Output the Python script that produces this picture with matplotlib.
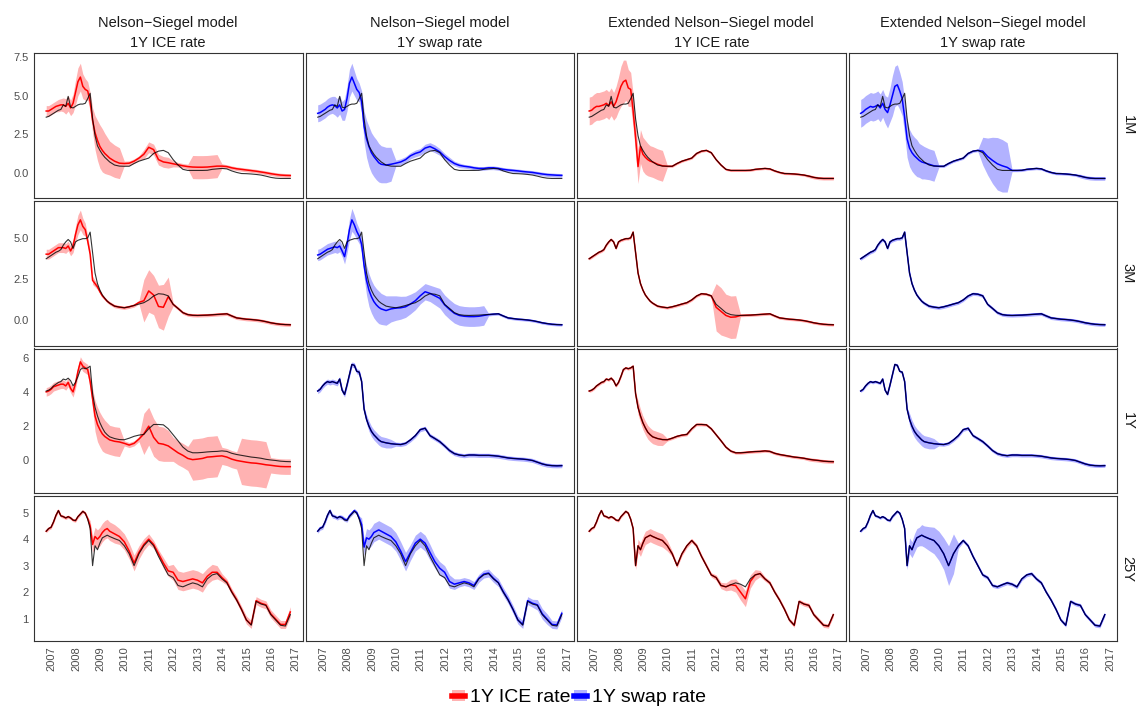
import matplotlib
matplotlib.use('Agg')
import numpy as np
import matplotlib.pyplot as plt
from matplotlib.patches import Patch
from matplotlib.lines import Line2D
from matplotlib.transforms import ScaledTranslation

plt.rcParams['font.family'] = ['Liberation Sans', 'DejaVu Sans']

# dates (decimal years): every 0.1 year up to mid 2009, then every 0.2 year
dates = [2007.0, 2007.1, 2007.2, 2007.3, 2007.4, 2007.5, 2007.6, 2007.7, 2007.8, 2007.9,
         2008.0, 2008.1, 2008.2, 2008.3, 2008.4, 2008.5, 2008.6, 2008.7, 2008.8, 2008.9,
         2009.0, 2009.1, 2009.2, 2009.3, 2009.4, 2009.5, 2009.6,
         2009.8, 2010.0, 2010.2, 2010.4, 2010.6, 2010.8, 2011.0, 2011.2, 2011.4, 2011.6,
         2011.8, 2012.0, 2012.2, 2012.4, 2012.6, 2012.8, 2013.0, 2013.2, 2013.4, 2013.6,
         2013.8, 2014.0, 2014.2, 2014.4, 2014.6, 2014.8, 2015.0, 2015.2, 2015.4, 2015.6,
         2015.8, 2016.0, 2016.2, 2016.4, 2016.6, 2016.8, 2017.0]

row_labels = ['1M', '3M', '1Y', '25Y']
col_titles = [('Nelson−Siegel model', '1Y ICE rate'),
              ('Nelson−Siegel model', '1Y swap rate'),
              ('Extended Nelson−Siegel model', '1Y ICE rate'),
              ('Extended Nelson−Siegel model', '1Y swap rate')]
year_ticks = list(range(2007, 2018))

# ---- 1M ----
obs_1m = [3.60, 3.65, 3.75, 3.85, 3.95, 4.05, 4.10, 4.40, 4.30, 4.95, 4.25, 4.20, 4.30, 4.40,
          4.45, 4.45, 4.50, 4.80, 5.15, 3.50, 2.40, 1.75, 1.45, 1.20, 1.00, 0.85, 0.70,
          0.50, 0.43, 0.42, 0.42, 0.60, 0.75, 0.85, 0.95, 1.25, 1.40, 1.45, 1.30, 0.85, 0.50,
          0.22, 0.15, 0.15, 0.15, 0.15, 0.16, 0.22, 0.25, 0.28, 0.25, 0.12, 0.02, -0.05,
          -0.06, -0.08, -0.11, -0.15, -0.22, -0.30, -0.35, -0.37, -0.37, -0.37]
fit_1m_ns_ice = [4.00, 4.00, 4.10, 4.20, 4.30, 4.35, 4.40, 4.40, 4.30, 4.50, 4.20, 4.50, 5.20,
                 5.90, 6.20, 5.60, 5.40, 5.30, 4.60, 3.40, 2.60, 2.10, 1.70, 1.45, 1.25, 1.10, 0.95,
                 0.75, 0.62, 0.60, 0.62, 0.75, 0.95, 1.20, 1.65, 1.50, 0.85, 0.70, 0.65, 0.58,
                 0.52, 0.45, 0.40, 0.37, 0.36, 0.36, 0.37, 0.40, 0.43, 0.43, 0.40, 0.32, 0.26,
                 0.22, 0.18, 0.14, 0.10, 0.05, 0.00, -0.06, -0.11, -0.15, -0.17, -0.18]
band_1m_ns_ice = ([0.35] * 5 + [0.40, 0.40, 0.45, 0.50, 0.50, 0.50, 0.60, 0.80, 0.90, 0.90, 0.80,
                   0.70, 0.60, 0.60, 0.80, 1.10, 1.30, 1.40, 1.40, 1.30, 1.20, 1.10]
                  + [1.05, 1.00] + [0.15] * 4 + [0.30] + [0.35] * 5 + [0.20] + [0.15] * 3
                  + [0.75] * 6 + [0.15] + [0.12] * 14)
fit_1m_ns_swap = [3.85, 3.90, 4.00, 4.10, 4.25, 4.35, 4.40, 4.35, 4.20, 4.40, 4.00, 4.10, 4.80,
                  5.80, 6.20, 5.80, 5.40, 5.20, 4.60, 3.00, 2.20, 1.70, 1.30, 1.05, 0.85, 0.65, 0.55,
                  0.50, 0.55, 0.62, 0.70, 0.85, 1.10, 1.25, 1.35, 1.60, 1.70, 1.55, 1.35, 1.05,
                  0.80, 0.60, 0.48, 0.42, 0.38, 0.32, 0.28, 0.28, 0.32, 0.32, 0.28, 0.22, 0.18,
                  0.15, 0.12, 0.08, 0.05, 0.02, -0.03, -0.08, -0.12, -0.14, -0.16, -0.17]
band_1m_ns_swap = ([0.55] * 7 + [0.60] * 4 + [0.70, 0.80, 0.90, 0.90, 0.80, 0.70, 0.60, 0.70,
                    1.00, 1.20, 1.30, 1.30, 1.30, 1.30, 1.25, 1.20]
                   + [1.15, 1.10] + [0.20] * 4 + [0.22, 0.22, 0.25, 0.25, 0.25, 0.22, 0.20,
                                                   0.20, 0.15, 0.15] + [0.12] * 21)
fit_1m_ens_ice = [4.00, 4.05, 4.20, 4.30, 4.30, 4.35, 4.40, 4.50, 4.35, 4.60, 4.30, 4.60, 5.10,
                  5.60, 5.90, 6.00, 5.50, 5.40, 4.00, 2.30, 0.40, 1.70, 1.20, 1.00, 0.85, 0.75, 0.70,
                  0.55, 0.45, 0.42, 0.42, 0.60, 0.75, 0.85, 0.95, 1.25, 1.40, 1.45, 1.30, 0.85,
                  0.50, 0.22, 0.15, 0.15, 0.15, 0.15, 0.16, 0.22, 0.25, 0.28, 0.25, 0.12, 0.02,
                  -0.05, -0.06, -0.08, -0.11, -0.15, -0.22, -0.30, -0.35, -0.37, -0.37, -0.37]
band_1m_ens_ice = ([0.90] * 11 + [1.00, 1.10, 1.30, 1.40, 1.30, 1.20, 1.10, 1.10, 1.10, 1.10,
                                  1.10, 1.10, 1.10, 1.05, 1.00, 1.00]
                   + [1.00, 1.00] + [0.07] * 29 + [0.10] * 6)
fit_1m_ens_swap = [3.85, 3.95, 4.10, 4.20, 4.30, 4.25, 4.30, 4.40, 4.20, 4.50, 4.10, 3.90, 4.40,
                   5.00, 5.60, 5.70, 5.30, 4.80, 3.60, 2.20, 1.60, 1.30, 1.10, 0.95, 0.80, 0.70,
                   0.65, 0.55, 0.45, 0.42, 0.42, 0.60, 0.75, 0.85, 0.95, 1.25, 1.40, 1.45, 1.40,
                   1.05, 0.80, 0.58, 0.45, 0.35, 0.15, 0.15, 0.16, 0.22, 0.25, 0.28, 0.25, 0.12,
                   0.02, -0.05, -0.06, -0.08, -0.11, -0.15, -0.22, -0.30, -0.35, -0.37, -0.37, -0.37]
band_1m_ens_swap = ([0.90] * 11 + [1.00, 1.10, 1.30, 1.30, 1.30, 1.20, 1.10, 1.10, 1.20, 1.20,
                                   1.20, 1.20, 1.20, 1.10, 1.10, 1.05]
                    + [1.00, 1.00] + [0.08] * 9 + [0.90, 1.20, 1.50, 1.70, 1.70, 1.60]
                    + [0.08] * 14 + [0.12] * 6)

# ---- 3M ----
obs_3m = [3.72, 3.82, 3.92, 4.02, 4.12, 4.18, 4.28, 4.55, 4.75, 4.90, 4.75, 4.35, 4.75, 4.85,
          4.90, 4.95, 4.95, 5.00, 5.35, 4.10, 2.85, 2.20, 1.80, 1.50, 1.30, 1.12, 1.00,
          0.82, 0.76, 0.72, 0.78, 0.86, 0.95, 1.03, 1.20, 1.44, 1.58, 1.55, 1.45, 0.93, 0.68,
          0.42, 0.30, 0.26, 0.25, 0.26, 0.27, 0.29, 0.31, 0.33, 0.35, 0.22, 0.10, 0.06, 0.02,
          0.00, -0.03, -0.07, -0.13, -0.20, -0.25, -0.29, -0.31, -0.32]
fit_3m_ns_ice = [4.00, 4.00, 4.10, 4.20, 4.30, 4.40, 4.40, 4.40, 4.35, 4.50, 4.20, 4.50, 5.20,
                 5.80, 6.10, 5.70, 5.50, 4.80, 4.00, 2.40, 2.20, 2.00, 1.70, 1.45, 1.28, 1.12, 1.00,
                 0.82, 0.76, 0.72, 0.78, 0.86, 1.05, 1.15, 1.75, 1.50, 0.80, 0.75, 1.40, 0.93,
                 0.68, 0.42, 0.30, 0.26, 0.25, 0.26, 0.27, 0.29, 0.31, 0.33, 0.35, 0.22, 0.10,
                 0.06, 0.02, 0.00, -0.03, -0.07, -0.13, -0.20, -0.25, -0.29, -0.31, -0.32]
band_3m_ns_ice = ([0.30] * 11 + [0.40, 0.50, 0.60, 0.60, 0.50, 0.40, 0.30, 0.25, 0.25, 0.20,
                                 0.15, 0.12, 0.10, 0.10, 0.10, 0.10]
                  + [0.10] * 6 + [1.30, 1.30, 1.20, 1.30, 1.40, 1.20] + [0.10] * 25)
fit_3m_ns_swap = [3.95, 4.00, 4.10, 4.20, 4.30, 4.35, 4.40, 4.45, 4.40, 4.50, 4.20, 3.85, 4.60,
                  5.50, 6.10, 5.80, 5.40, 5.10, 4.60, 3.30, 2.40, 1.80, 1.40, 1.10, 0.90, 0.75, 0.65,
                  0.55, 0.65, 0.70, 0.72, 0.78, 0.95, 1.15, 1.45, 1.70, 1.60, 1.45, 1.30, 0.90,
                  0.62, 0.38, 0.25, 0.20, 0.18, 0.18, 0.20, 0.25, 0.30, 0.33, 0.35, 0.22, 0.10,
                  0.06, 0.02, 0.00, -0.03, -0.07, -0.13, -0.20, -0.25, -0.29, -0.31, -0.32]
band_3m_ns_swap = ([0.35] * 11 + [0.45, 0.55, 0.65, 0.70, 0.60, 0.50, 0.45, 0.50, 0.70, 0.90,
                                  1.00, 1.00, 1.00, 1.00, 1.00, 0.95]
                   + [0.90, 0.80, 0.75, 0.70, 0.65, 0.60, 0.55, 0.50, 0.50, 0.50, 0.55]
                   + [0.60] * 10 + [0.08] * 16)
fit_3m_ens_ice = [3.72, 3.82, 3.92, 4.02, 4.12, 4.18, 4.28, 4.55, 4.75, 4.90, 4.75, 4.35, 4.75,
                  4.85, 4.90, 4.95, 4.95, 5.00, 5.35, 4.10, 2.85, 2.20, 1.80, 1.50, 1.30, 1.12, 1.00,
                  0.82, 0.76, 0.72, 0.78, 0.86, 0.95, 1.03, 1.20, 1.44, 1.58, 1.55, 1.45, 0.75,
                  0.50, 0.25, 0.14, 0.16, 0.25, 0.26, 0.27, 0.29, 0.31, 0.33, 0.35, 0.22, 0.10,
                  0.06, 0.02, 0.00, -0.03, -0.07, -0.13, -0.20, -0.25, -0.29, -0.31, -0.32]
band_3m_ens_ice = [0.08] * 27 + [0.08] * 12 + [1.45, 1.45, 1.30, 1.30, 1.30] + [0.08] * 20
fit_3m_ens_swap = obs_3m   # fit sits on the observed line
band_3m_ens_swap = [0.10] * 64

# ---- 1Y ----
obs_1y_ice = [4.05, 4.10, 4.20, 4.35, 4.45, 4.55, 4.60, 4.75, 4.70, 4.80, 4.65, 4.35, 4.55, 4.90,
              5.30, 5.40, 5.35, 5.40, 5.50, 3.90, 3.10, 2.60, 2.20, 1.90, 1.65, 1.50, 1.38,
              1.28, 1.22, 1.21, 1.30, 1.41, 1.48, 1.52, 1.85, 2.10, 2.10, 2.08, 1.85, 1.50, 1.15,
              0.78, 0.55, 0.45, 0.45, 0.47, 0.50, 0.52, 0.53, 0.56, 0.53, 0.42, 0.35, 0.30, 0.25,
              0.20, 0.17, 0.13, 0.07, 0.03, 0.00, -0.04, -0.06, -0.07]
obs_1y_swap = [4.05, 4.15, 4.35, 4.50, 4.60, 4.55, 4.60, 4.55, 4.50, 4.75, 4.10, 3.85, 4.40, 5.00,
               5.60, 5.55, 5.20, 5.15, 4.60, 3.00, 2.40, 2.00, 1.70, 1.50, 1.35, 1.20, 1.10,
               1.03, 0.98, 0.95, 0.93, 1.00, 1.20, 1.45, 1.80, 1.88, 1.45, 1.28, 1.10, 0.85, 0.58,
               0.40, 0.32, 0.28, 0.32, 0.32, 0.30, 0.30, 0.30, 0.28, 0.25, 0.20, 0.15, 0.12, 0.10,
               0.08, 0.05, 0.00, -0.10, -0.20, -0.27, -0.30, -0.31, -0.30]
fit_1y_ns_ice = [4.00, 4.05, 4.15, 4.30, 4.35, 4.40, 4.45, 4.45, 4.35, 4.55, 4.20, 4.00, 4.50,
                 5.20, 5.75, 5.50, 5.40, 5.30, 4.60, 3.60, 2.60, 2.10, 1.80, 1.55, 1.40, 1.30, 1.20,
                 1.12, 1.08, 1.00, 0.90, 1.00, 1.25, 1.55, 2.00, 1.35, 1.00, 0.95, 0.85, 0.65,
                 0.45, 0.30, 0.12, 0.05, 0.08, 0.12, 0.20, 0.22, 0.25, 0.27, 0.20, 0.08, 0.00,
                 -0.05, -0.10, -0.14, -0.16, -0.20, -0.25, -0.28, -0.32, -0.35, -0.36, -0.36]
band_1y_ns_ice = ([0.25] * 11 + [0.30] * 7 + [0.35, 0.60, 0.90, 1.00, 1.00, 1.00, 0.95, 0.90, 0.85]
                  + [0.85, 0.85] + [0.15] * 4 + [1.20, 1.10, 1.10, 1.00, 1.00, 0.90]
                  + [0.70] * 4 + [1.20] * 6 + [0.50] * 4 + [1.35] * 6 + [0.45] * 5)
fit_1y_ns_swap = obs_1y_swap
band_1y_ns_swap = [0.15] * 20 + [0.25] + [0.30] * 6 + [0.30, 0.25] + [0.12] * 35
fit_1y_ens_ice = obs_1y_ice
band_1y_ens_ice = [0.08] * 20 + [0.40] * 7 + [0.40, 0.35] + [0.08] * 29 + [0.10] * 6
fit_1y_ens_swap = obs_1y_swap
band_1y_ens_swap = [0.08] * 20 + [0.35] * 7 + [0.35, 0.30] + [0.10] * 35

# ---- 25Y ----
obs_25y = [4.30, 4.40, 4.45, 4.65, 4.90, 5.08, 4.88, 4.85, 4.80, 4.85, 4.80, 4.72, 4.70, 4.85,
           4.95, 5.05, 4.98, 4.75, 4.40, 3.00, 3.75, 3.60, 3.85, 4.05, 4.10, 4.15, 4.10,
           4.02, 3.95, 3.75, 3.45, 3.00, 3.45, 3.75, 3.95, 3.75, 3.35, 3.00, 2.65, 2.55, 2.25,
           2.20, 2.28, 2.35, 2.30, 2.20, 2.50, 2.65, 2.70, 2.50, 2.35, 2.00, 1.70, 1.35, 0.95,
           0.75, 1.65, 1.55, 1.50, 1.15, 0.95, 0.75, 0.72, 1.15]
fit_25y_ns_ice = [4.30, 4.40, 4.45, 4.65, 4.90, 5.08, 4.88, 4.85, 4.80, 4.85, 4.80, 4.72, 4.70,
                  4.85, 4.95, 5.05, 4.98, 4.78, 4.50, 3.80, 4.10, 4.00, 4.10, 4.25, 4.35, 4.40, 4.30,
                  4.20, 4.10, 3.90, 3.55, 3.10, 3.50, 3.80, 4.00, 3.80, 3.45, 3.10, 2.80, 2.75,
                  2.45, 2.40, 2.45, 2.50, 2.45, 2.35, 2.60, 2.75, 2.75, 2.55, 2.38, 2.02, 1.72,
                  1.35, 0.95, 0.78, 1.68, 1.58, 1.52, 1.18, 0.98, 0.78, 0.78, 1.25]
band_25y_ns_ice = ([0.06] * 18 + [0.20, 0.30] + [0.35] * 7
                   + [0.35, 0.30, 0.30, 0.30, 0.30, 0.25, 0.22, 0.20, 0.15, 0.15, 0.20, 0.20,
                      0.30, 0.35, 0.35, 0.35, 0.35, 0.35, 0.35, 0.30, 0.30, 0.25, 0.15]
                   + [0.12] * 4 + [0.15] * 9 + [0.20])
fit_25y_ns_swap = [4.30, 4.42, 4.45, 4.65, 4.90, 5.08, 4.88, 4.85, 4.80, 4.85, 4.82, 4.75, 4.72,
                   4.88, 4.98, 5.08, 5.00, 4.80, 4.55, 3.70, 4.05, 4.00, 4.10, 4.25, 4.30, 4.35,
                   4.30, 4.20, 4.10, 3.90, 3.55, 3.15, 3.50, 3.85, 4.00, 3.85, 3.50, 3.15, 2.90,
                   2.75, 2.40, 2.30, 2.35, 2.40, 2.35, 2.25, 2.52, 2.68, 2.72, 2.52, 2.36, 2.02,
                   1.72, 1.35, 0.95, 0.78, 1.68, 1.58, 1.52, 1.18, 0.98, 0.78, 0.76, 1.20]
band_25y_ns_swap = ([0.08] * 18 + [0.25, 0.30] + [0.35] * 7
                    + [0.35] * 5 + [0.30] * 5 + [0.25] * 4 + [0.20] + [0.15] * 16
                    + [0.20] * 3 + [0.15] * 3)
fit_25y_ens_ice = [4.30, 4.40, 4.45, 4.65, 4.90, 5.08, 4.88, 4.85, 4.80, 4.85, 4.80, 4.72, 4.70,
                   4.85, 4.95, 5.05, 4.98, 4.75, 4.40, 3.00, 3.75, 3.60, 3.85, 4.05, 4.10, 4.15,
                   4.10, 4.02, 3.95, 3.75, 3.45, 3.00, 3.45, 3.75, 3.95, 3.75, 3.35, 3.00, 2.65,
                   2.55, 2.25, 2.20, 2.28, 2.25, 2.00, 1.75, 2.40, 2.65, 2.70, 2.50, 2.35, 2.00,
                   1.70, 1.35, 0.95, 0.75, 1.65, 1.55, 1.50, 1.15, 0.95, 0.75, 0.72, 1.15]
band_25y_ens_ice = ([0.05] * 19 + [0.15] + [0.25] * 7
                    + [0.25, 0.25, 0.20, 0.10] + [0.08] * 8
                    + [0.10, 0.12, 0.15, 0.20, 0.25, 0.30, 0.30, 0.25, 0.20, 0.12] + [0.08] * 15)
fit_25y_ens_swap = obs_25y
band_25y_ens_swap = ([0.05] * 19 + [0.15] + [0.30, 0.30, 0.35, 0.35, 0.35, 0.40, 0.40]
                     + [0.45, 0.50, 0.55, 0.60, 0.75, 0.75, 0.10] + [0.07] * 30)

# grid of panels: (observed, fitted, half width of band)
panels = [
    [(obs_1m, fit_1m_ns_ice, band_1m_ns_ice), (obs_1m, fit_1m_ns_swap, band_1m_ns_swap),
     (obs_1m, fit_1m_ens_ice, band_1m_ens_ice), (obs_1m, fit_1m_ens_swap, band_1m_ens_swap)],
    [(obs_3m, fit_3m_ns_ice, band_3m_ns_ice), (obs_3m, fit_3m_ns_swap, band_3m_ns_swap),
     (obs_3m, fit_3m_ens_ice, band_3m_ens_ice), (obs_3m, fit_3m_ens_swap, band_3m_ens_swap)],
    [(obs_1y_ice, fit_1y_ns_ice, band_1y_ns_ice), (obs_1y_swap, fit_1y_ns_swap, band_1y_ns_swap),
     (obs_1y_ice, fit_1y_ens_ice, band_1y_ens_ice), (obs_1y_swap, fit_1y_ens_swap, band_1y_ens_swap)],
    [(obs_25y, fit_25y_ns_ice, band_25y_ns_ice), (obs_25y, fit_25y_ns_swap, band_25y_ns_swap),
     (obs_25y, fit_25y_ens_ice, band_25y_ens_ice), (obs_25y, fit_25y_ens_swap, band_25y_ens_swap)],
]

row_ylims = [(-1.62, 7.76), (-1.59, 7.27), (-1.91, 6.53), (0.155, 5.62)]
row_yticks = [[0, 2.5, 5.0, 7.5], [0, 2.5, 5.0], [0, 2, 4, 6], [1, 2, 3, 4, 5]]
row_yticklabels = [['0.0', '2.5', '5.0', '7.5'], ['0.0', '2.5', '5.0'],
                   ['0', '2', '4', '6'], ['1', '2', '3', '4', '5']]
col_colors = ['red', 'blue', 'red', 'blue']

# layout in pixels
W, H = 1137, 706
left0, top0 = 34, 53
pw, ph, gap = 268.5, 144.75, 3

fig = plt.figure(figsize=(W / 100, H / 100), dpi=100)
t = np.array(dates)

for r in range(4):
    for c in range(4):
        x0 = left0 + c * (pw + gap)
        y0 = top0 + r * (ph + gap)
        ax = fig.add_axes([x0 / W, 1 - (y0 + ph) / H, pw / W, ph / H])
        obs, fit, hw = (np.array(v) for v in panels[r][c])
        col = col_colors[c]
        ax.fill_between(t, fit - hw, fit + hw, color=col, alpha=0.3, linewidth=0)
        ax.plot(t, fit, color=col, lw=1.1)
        ax.plot(t, obs, color='black', lw=0.8, alpha=0.8)
        ax.set_xlim(2006.5, 2017.5)
        ax.set_ylim(*row_ylims[r])
        for s in ax.spines.values():
            s.set_color('#333333')
            s.set_linewidth(0.8)
        ax.set_xticks(year_ticks)
        ax.set_yticks(row_yticks[r])
        ax.tick_params(length=0, labelsize=8, labelcolor='#4D4D4D', pad=4)
        if c == 0:
            ax.set_yticklabels(row_yticklabels[r])
        else:
            ax.tick_params(axis='y', labelleft=False)
        if r == 3:
            ax.set_xticklabels([str(y) for y in year_ticks], rotation=90, va='top', ha='center')
            for lab in ax.get_xticklabels():
                lab.set_transform(lab.get_transform() + ScaledTranslation(0.055, 0, fig.dpi_scale_trans))
        else:
            ax.tick_params(axis='x', labelbottom=False)

        if r == 0:
            cx = (x0 + pw / 2) / W
            fig.text(cx, 1 - 23 / H, col_titles[c][0], ha='center', va='center',
                     fontsize=10.5, color='#1A1A1A')
            fig.text(cx, 1 - 43 / H, col_titles[c][1], ha='center', va='center',
                     fontsize=10.5, color='#1A1A1A')
    fig.text(1127.5 / W, 1 - (top0 + r * (ph + gap) + ph / 2) / H, row_labels[r],
             rotation=270, ha='center', va='center', fontsize=10.5, color='#1A1A1A')

handles = [(Patch(facecolor='red', alpha=0.3, edgecolor='none'), Line2D([], [], color='red', lw=4)),
           (Patch(facecolor='blue', alpha=0.3, edgecolor='none'), Line2D([], [], color='blue', lw=4))]
fig.legend(handles, ['1Y ICE rate', '1Y swap rate'], loc='center',
           bbox_to_anchor=(579 / W, 1 - 698 / H), ncol=2, frameon=False, fontsize=14,
           handlelength=0.65, handleheight=0.55, columnspacing=0.2, handletextpad=0.26,
           borderpad=0)

fig.savefig('out.png', dpi=100)
